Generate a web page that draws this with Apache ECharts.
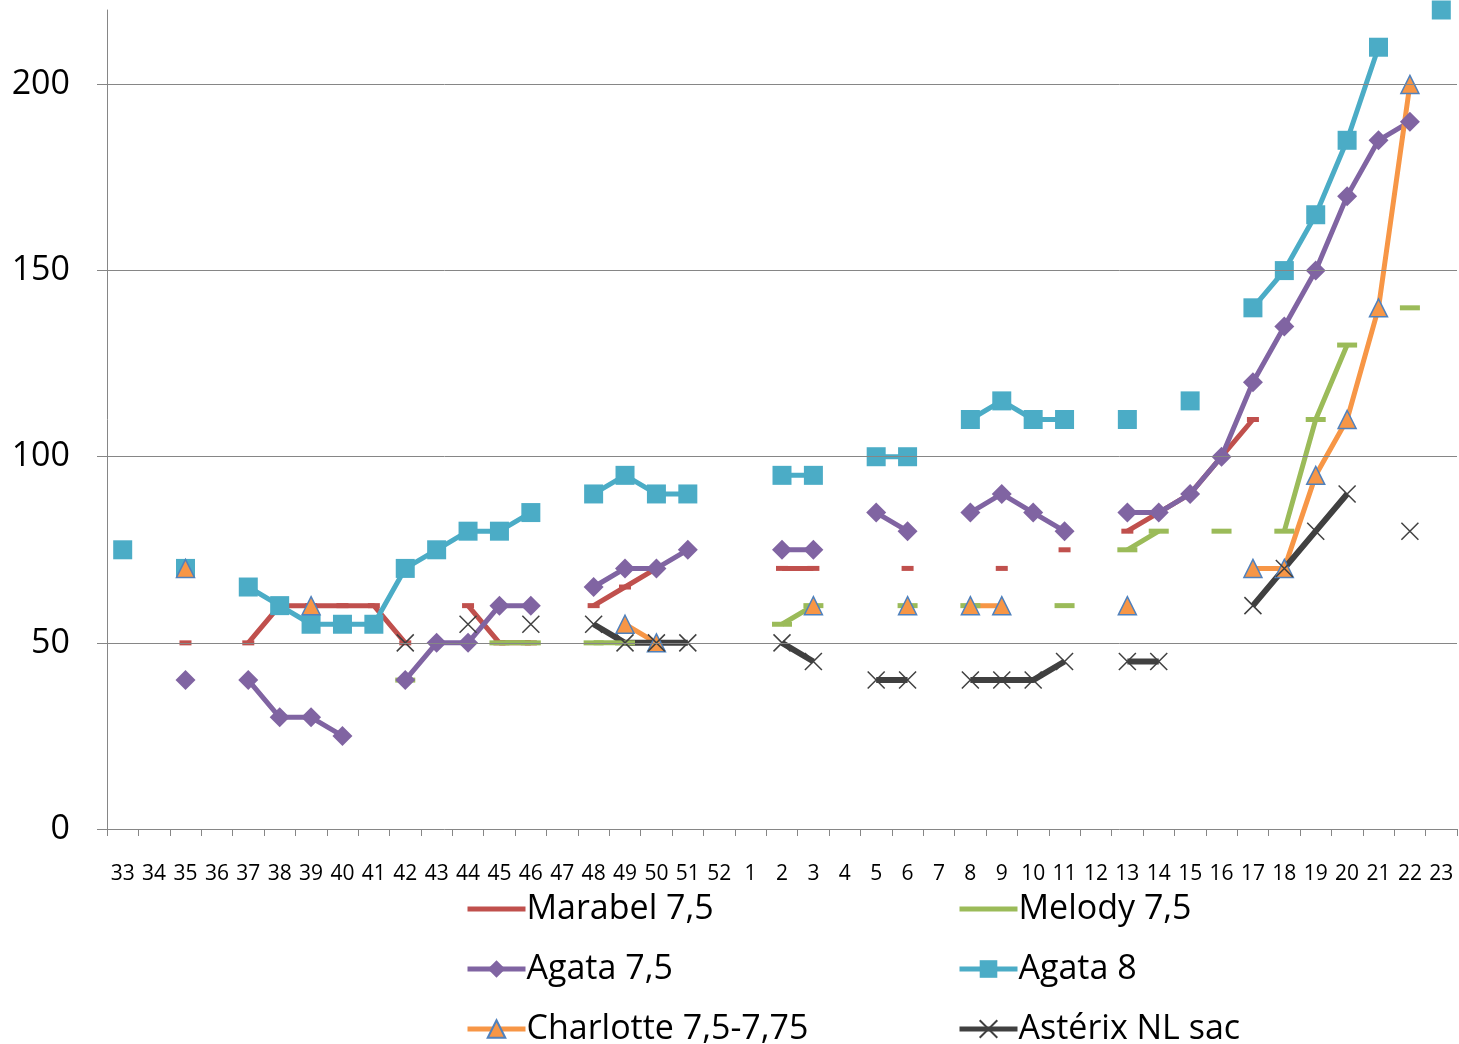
<!DOCTYPE html>
<html>
<head>
<meta charset="utf-8">
<script src="https://cdn.jsdelivr.net/npm/echarts@6/dist/echarts.min.js"></script>
<style>html,body{margin:0;padding:0;background:#fff}#c{width:1459px;height:1044px}</style>
</head>
<body>
<div id="c"></div>
<script>
const weeks = ['33','34','35','36','37','38','39','40','41','42','43','44','45','46','47','48','49','50','51','52','1','2','3','4','5','6','7','8','9','10','11','12','13','14','15','16','17','18','19','20','21','22','23'];
const _ = null;
//                 33 34 35 36 37 38 39 40 41 42 43 44 45 46 47 48 49 50 51 52 1  2  3  4  5  6  7  8  9  10 11 12 13 14 15 16  17  18  19  20  21  22  23
const marabel   = [_, _, 50,_, 50,60,60,60,60,50,_, 60,50,50,_, 60,65,70,_, _, _, 70,70,_, _, 70,_, _, 70,_, 75,_, 80,85,90,100,110,_,  _,  _,  _,  _,  _];
const melody    = [_, _, _, _, _, _, _, _, _, 40,_, _, 50,50,_, 50,50,_, _, _, _, 55,60,_, _, 60,_, 60,_, _, 60,_, 75,80,_, 80, _,  80, 110,130,_,  140,_];
const agata75   = [_, _, 40,_, 40,30,30,25,_, 40,50,50,60,60,_, 65,70,70,75,_, _, 75,75,_, 85,80,_, 85,90,85,80,_, 85,85,90,100,120,135,150,170,185,190,_];
const agata8    = [75,_, 70,_, 65,60,55,55,55,70,75,80,80,85,_, 90,95,90,90,_, _, 95,95,_, 100,100,_,110,115,110,110,_,110,_,115,_, 140,150,165,185,210,_,  220];
const charlotte = [_, _, 70,_, _, _, 60,_, _, _, _, _, _, _, _, _, 55,50,_, _, _, _, 60,_, _, 60,_, 60,60,_, _, _, 60,_, _, _,  70, 70, 95, 110,140,200,_];
const asterix   = [_, _, _, _, _, _, _, _, _, 50,_, 55,_, 55,_, 55,50,50,50,_, _, 50,45,_, 40,40,_, 40,40,40,45,_, 45,45,_, _,  60, 70, 80, 90, _,  80, _];
const gridValues = [50, 100, 150, 200];
const yTicks = [0, 50, 100, 150, 200];

const FONT = 'Open Sans';
const xPath = 'path://M0,0L10,10M10,0L0,10';

function lineSeries(name, data, color, symbol, size, extra) {
  return Object.assign({
    name, type: 'line', data,
    symbol, symbolSize: size,
    showAllSymbol: true, connectNulls: false,
    lineStyle: { color, width: 5 },
    itemStyle: { color },
    emphasis: { disabled: true },
    animation: false, z: 3
  }, extra || {});
}

const legendCommon = {
  orient: 'vertical', top: 884, height: 160, itemWidth: 58, itemHeight: 22, itemGap: 20,
  lineStyle: { width: 5 },
  textStyle: { fontFamily: FONT, fontSize: 34, color: '#000', lineHeight: 40, padding: [0,0,0,-4] }
};

const chart = echarts.init(document.getElementById('c'), null, { renderer: 'canvas' });
chart.setOption({
  animation: false,
  grid: { left: 107, right: 2, top: 10, bottom: 215, containLabel: false },
  xAxis: {
    type: 'category', data: weeks, boundaryGap: true,
    axisLine: { lineStyle: { color: '#868686', width: 1 } },
    axisTick: { show: true, interval: 0, length: 7, lineStyle: { color: '#868686' } },
    axisLabel: { interval: 0, fontFamily: FONT, fontSize: 21, color: '#000', margin: 35 },
    splitLine: { show: false }
  },
  yAxis: {
    type: 'value', min: 0, max: 220, interval: 50,
    axisLine: { show: true, lineStyle: { color: '#868686', width: 1 } },
    axisTick: { show: true, length: 10, customValues: yTicks, lineStyle: { color: '#868686' } },
    axisLabel: { fontFamily: FONT, fontSize: 34, color: '#000', margin: 37,
      lineHeight: 34, padding: [10, 0, 0, 0],
      customValues: yTicks, formatter: v => (v % 50 === 0 ? String(v) : '') },
    splitLine: { show: false }
  },
  legend: [
    Object.assign({ left: 460, data: [
      { name: 'Marabel 7,5', itemStyle: { opacity: 0 } }, 'Agata 7,5', 'Charlotte 7,5-7,75'] }, legendCommon),
    Object.assign({ left: 952, data: [
      { name: 'Melody 7,5', itemStyle: { opacity: 0 } }, 'Agata 8', 'Astérix NL sac'] }, legendCommon)
  ],
  series: [
    { name: 'grid', type: 'line', data: [], z: 1, silent: true,
      markLine: { silent: true, symbol: 'none', label: { show: false }, animation: false,
        lineStyle: { color: '#868686', width: 1, type: 'solid' },
        data: gridValues.map(v => ({ yAxis: v })) } },
    lineSeries('Marabel 7,5', marabel, '#C0504D', 'rect', [12, 5]),
    lineSeries('Melody 7,5', melody, '#9BBB59', 'rect', [20, 5]),
    lineSeries('Agata 7,5', agata75, '#8064A2', 'diamond', 20),
    lineSeries('Agata 8', agata8, '#4BACC6', 'rect', 19),
    lineSeries('Charlotte 7,5-7,75', charlotte, '#F79646', 'triangle', 18,
      { itemStyle: { color: '#F79646', borderColor: '#4F81BD', borderWidth: 1.5 } }),
    lineSeries('Astérix NL sac', asterix, '#404040', xPath, 17,
      { lineStyle: { color: '#404040', width: 6 },
        itemStyle: { color: '#404040', borderColor: '#404040', borderWidth: 1.5 } })
  ]
});
</script>
</body>
</html>
